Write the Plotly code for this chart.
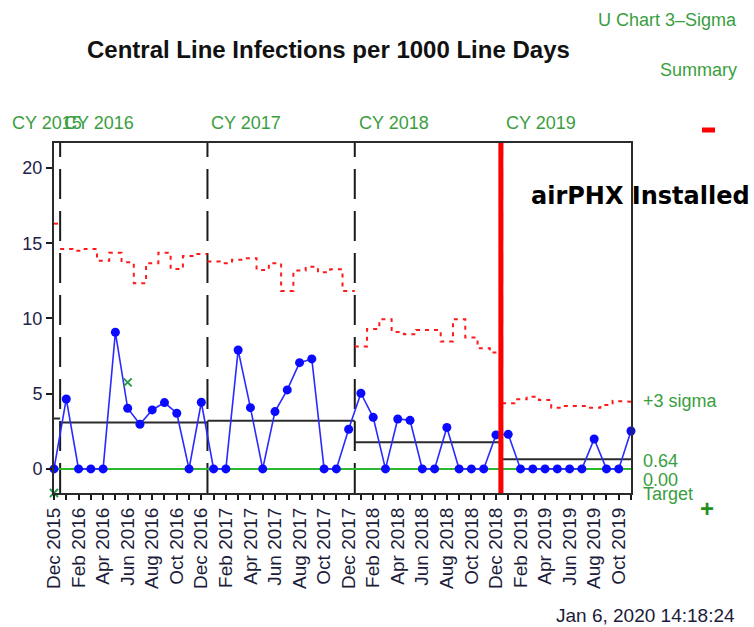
import plotly.graph_objects as go

# ---------------- data ----------------
months = [
    "Dec 2015",
    "Jan 2016", "Feb 2016", "Mar 2016", "Apr 2016", "May 2016", "Jun 2016",
    "Jul 2016", "Aug 2016", "Sep 2016", "Oct 2016", "Nov 2016", "Dec 2016",
    "Jan 2017", "Feb 2017", "Mar 2017", "Apr 2017", "May 2017", "Jun 2017",
    "Jul 2017", "Aug 2017", "Sep 2017", "Oct 2017", "Nov 2017", "Dec 2017",
    "Jan 2018", "Feb 2018", "Mar 2018", "Apr 2018", "May 2018", "Jun 2018",
    "Jul 2018", "Aug 2018", "Sep 2018", "Oct 2018", "Nov 2018", "Dec 2018",
    "Jan 2019", "Feb 2019", "Mar 2019", "Apr 2019", "May 2019", "Jun 2019",
    "Jul 2019", "Aug 2019", "Sep 2019", "Oct 2019", "Nov 2019",
]

infection_rate = [
    0.00,
    4.65, 0.00, 0.00, 0.00, 9.08, 4.03, 2.97, 3.92, 4.41, 3.70, 0.00, 4.43,
    0.00, 0.00, 7.90, 4.07, 0.00, 3.81, 5.25, 7.06, 7.31, 0.00, 0.00, 2.64,
    5.03, 3.43, 0.00, 3.32, 3.23, 0.00, 0.00, 2.75, 0.00, 0.00, 0.00, 2.26,
    2.30, 0.00, 0.00, 0.00, 0.00, 0.00, 0.00, 1.99, 0.00, 0.00, 2.52,
]

upper_3sigma = [
    16.30,
    14.62, 14.50, 14.62, 13.84, 14.37, 13.73, 12.34, 13.67, 14.37, 13.29, 14.15, 14.29,
    13.78, 13.67, 13.90, 14.00, 13.22, 13.67, 11.83, 13.18, 13.44, 13.07, 13.27, 11.83,
    8.13, 9.30, 9.95, 9.10, 8.95, 9.24, 9.24, 8.46, 9.95, 8.73, 8.02, 7.73,
    4.37, 4.63, 4.80, 4.58, 4.07, 4.19, 4.19, 4.07, 4.25, 4.52, 4.47,
]

phase_names = ["CY 2015", "CY 2016", "CY 2017", "CY 2018", "CY 2019"]
phase_start = [0, 1, 13, 25, 37]
phase_centre = [3.35, 3.08, 3.20, 1.77, 0.64]
target_value = 0.0

flag_months = ["Dec 2015", "Jun 2016"]
flag_values = [-1.80, 5.75]

install_month = "Dec 2018"
install_fraction = 0.4
y_ticks = [0, 5, 10, 15, 20]

# ---------------- layout geometry ----------------
W, H = 754, 627
L, R, T, B = 54, 123, 143, 134
PW, PH = W - L - R, H - T - B
Y_RANGE = [-1.6, 21.66]


def px(x):
    return (x - L) / PW


def py(y):
    return (H - B - y) / PH


GREEN = "#3a9e3e"
n = len(months)
xi = list(range(n))

phase_of = []
for k in range(n):
    p = max(i for i, s in enumerate(phase_start) if s <= k)
    phase_of.append(p)
centre_by_month = [phase_centre[phase_of[k]] for k in range(n)]


def step_xy(vals):
    xs, ys = [], []
    for p in range(len(phase_start)):
        s = phase_start[p]
        e = phase_start[p + 1] - 1 if p + 1 < len(phase_start) else n - 1
        for k in range(s, e + 1):
            xs += [max(k - 0.5, 0), min(k + 0.5, n - 1)]
            ys += [vals[k], vals[k]]
        xs.append(None)
        ys.append(None)
    return xs, ys


fig = go.Figure()

ux, uy = step_xy(upper_3sigma)
fig.add_trace(go.Scatter(x=ux, y=uy, mode="lines", line=dict(color="#ff1a1a", width=2, dash="4px,5px"),
                         hoverinfo="skip", showlegend=False, cliponaxis=False))

fig.add_trace(go.Scatter(x=[0, n - 1], y=[target_value, target_value], mode="lines",
                         line=dict(color="#2fb82f", width=2), showlegend=False, cliponaxis=False))

cx, cy = step_xy(centre_by_month)
fig.add_trace(go.Scatter(x=cx, y=cy, mode="lines", line=dict(color="#2b2b2b", width=2),
                         showlegend=False, cliponaxis=False))

fig.add_trace(go.Scatter(x=xi, y=infection_rate, mode="lines+markers",
                         line=dict(color="#2a2aff", width=1.6),
                         marker=dict(color="#0a0aff", size=9),
                         showlegend=False, cliponaxis=False))

# flagged points (the off-scale one is pinned to the bottom edge of the plot)
fig.add_trace(go.Scatter(x=[months.index(m) for m in flag_months],
                         y=[max(v, Y_RANGE[0]) for v in flag_values], mode="markers",
                         marker=dict(symbol="x-thin", size=8, line=dict(color="#2a9a4a", width=2)),
                         showlegend=False, cliponaxis=False))

shapes = []
for s in phase_start[1:]:
    shapes.append(dict(type="line", xref="x", yref="paper", x0=s - 0.5, x1=s - 0.5, y0=0, y1=1,
                       line=dict(color="#1a1a1a", width=2, dash="30px,12px"), layer="below"))

install_x = months.index(install_month) + install_fraction
shapes.append(dict(type="line", xref="x", yref="paper", x0=install_x, x1=install_x, y0=0, y1=1,
                   line=dict(color="#ff0000", width=5), layer="above"))
shapes.append(dict(type="line", xref="paper", yref="paper", x0=px(702), x1=px(715), y0=py(130), y1=py(130),
                   line=dict(color="#ff0000", width=5)))

ann = []


def text(t, x, y, size=18, color=GREEN, xanchor="left", bold=False, family="Arial"):
    ann.append(dict(text=f"<b>{t}</b>" if bold else t, x=px(x), y=py(y), xref="paper", yref="paper",
                    xanchor=xanchor, yanchor="middle", showarrow=False,
                    font=dict(family=family, size=size, color=color)))


text("Central Line Infections per 1000 Line Days", 328, 50, size=24, color="#111111", xanchor="center", bold=True)
text("U Chart 3–Sigma", 739, 20, xanchor="right")
text("Summary", 739, 70, xanchor="right")
text("airPHX Installed", 529, 196, size=24, color="#000000", bold=True, family="DejaVu Sans")

phase_px = [10] + [L + (s - 0.5) * PW / (n - 1) + 2 for s in phase_start[1:]]
for name, xp in zip(phase_names, phase_px):
    text(name, xp, 123)

text("+3 sigma", 641, 401)
text(f"{phase_centre[-1]:.2f}", 641, 461)
text(f"{target_value:.2f}", 641, 480)
text("Target", 641, 494)
text("<b>+</b>", 707, 508, size=24, color="#1f8f1f", xanchor="center")
text("Jan 6, 2020 14:18:24", 737, 615, size=19, color="#1c1c3a", xanchor="right")

fig.update_layout(
    width=W, height=H,
    margin=dict(l=L, r=R, t=T, b=B, pad=0),
    paper_bgcolor="white", plot_bgcolor="white",
    font=dict(family="Arial"),
    shapes=shapes, annotations=ann,
    showlegend=False,
)
fig.update_xaxes(range=[0, n - 1], tickvals=xi,
                 ticktext=[m if k % 2 == 0 else "" for k, m in enumerate(months)],
                 tickangle=-90, ticks="outside", ticklen=5, tickwidth=1.5, tickcolor="#1a1a1a",
                 tickfont=dict(family="Arial", size=19, color="#1c1c3a"),
                 showgrid=False, zeroline=False, showline=True, mirror=True,
                 linecolor="#2b2b2b", linewidth=2)
fig.update_yaxes(range=Y_RANGE, tickvals=y_ticks, ticks="outside", ticklen=6, tickwidth=1.5,
                 tickcolor="#1a1a1a", tickfont=dict(family="Arial", size=18, color="#22224a"),
                 showgrid=False, zeroline=False, showline=True, mirror=True,
                 linecolor="#2b2b2b", linewidth=2)

fig.write_html("out.html", config={"displayModeBar": False},
               post_script="document.body.style.margin='0';document.body.style.overflow='hidden';")
